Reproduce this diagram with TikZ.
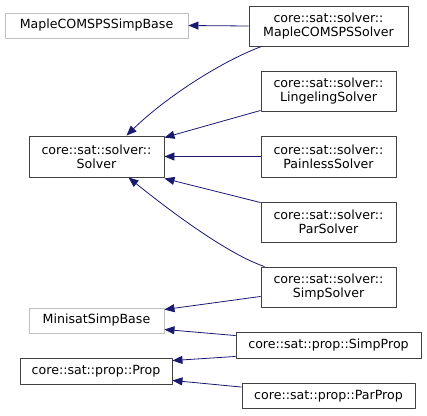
\documentclass[tikz,border=0pt]{standalone}
\usepackage{fontspec}
\setmainfont{DejaVu Sans}
\usetikzlibrary{arrows.meta}
\definecolor{edgeblue}{HTML}{191970}
\definecolor{boxgray}{HTML}{BFBFBF}
\definecolor{boxdark}{HTML}{404040}
\begin{document}
\begin{tikzpicture}[x=1pt, y=-1pt, font=\fontsize{12.6}{14}\selectfont, line join=round,
    >={Triangle[length=10pt,width=8pt]},
    cls/.style={draw=boxdark, line width=0.9pt, align=center, inner sep=0pt, minimum height=40pt},
    ext/.style={draw=boxgray, line width=0.9pt, align=center, inner sep=0pt, minimum height=25pt, text=black},
    edge/.style={->, draw=edgeblue, line width=0.8pt}]
    \useasboundingbox (0,0) rectangle (427,415);
    
    % Externe Basisklassen (grau)
    \node[ext, minimum width=183pt] (mapleBase) at (96.5,25.5) {MapleCOMSPSSimpBase};
    \node[ext, minimum width=135pt] (minisatBase) at (96.5,320.5) {MinisatSimpBase};
    
    % Basisklassen
    \node[cls, minimum width=135pt, minimum height=41pt] (solver) at (96.5,156.5) {core::sat::solver::\\Solver};
    \node[cls, minimum width=152pt, minimum height=26pt] (prop) at (96,371) {core::sat::prop::Prop};
    
    % Abgeleitete Solver
    \node[cls, minimum width=159pt] (mapleSolver) at (328.5,26) {core::sat::solver::\\MapleCOMSPSSolver};
    \node[cls, minimum width=135pt] (lingeling) at (328.5,91) {core::sat::solver::\\LingelingSolver};
    \node[cls, minimum width=135pt, minimum height=41pt] (painless) at (328.5,156.5) {core::sat::solver::\\PainlessSolver};
    \node[cls, minimum width=135pt] (parSolver) at (328.5,222) {core::sat::solver::\\ParSolver};
    \node[cls, minimum width=135pt] (simpSolver) at (328.5,287) {core::sat::solver::\\SimpSolver};
    
    % Abgeleitete Prop-Klassen
    \node[cls, minimum width=185pt, minimum height=26pt] (simpProp) at (328.5,345) {core::sat::prop::SimpProp};
    \node[cls, minimum width=173pt, minimum height=25pt] (parProp) at (328.5,396) {core::sat::prop::ParProp};
    
    % Vererbung
    \draw[edge] (mapleSolver.west) -- (mapleBase.east);
    \draw[edge] ([xshift=13pt]mapleSolver.south west) .. controls (220,62) and (165,98) .. ([xshift=30pt]solver.north);
    \draw[edge] ([yshift=1pt]lingeling.south west) -- ([yshift=-2pt]solver.north east);
    \draw[edge] (painless.west) -- (solver.east);
    \draw[edge] ([yshift=-1pt]parSolver.north west) -- ([yshift=-1pt]solver.south east);
    \draw[edge] ([xshift=4pt]simpSolver.north west) .. controls (230,255) and (175,215) .. ([xshift=32pt]solver.south);
    \draw[edge] ([yshift=11pt]simpSolver.south west) -- ([yshift=-2pt]minisatBase.north east);
    \draw[edge] ([yshift=-4pt]simpProp.north west) -- ([yshift=4pt]minisatBase.south east);
    \draw[edge] ([yshift=2pt]simpProp.south west) -- ([yshift=-3pt]prop.north east);
    \draw[edge] ([yshift=-4pt]parProp.north west) -- ([yshift=4pt]prop.south east);
\end{tikzpicture}
\end{document}
